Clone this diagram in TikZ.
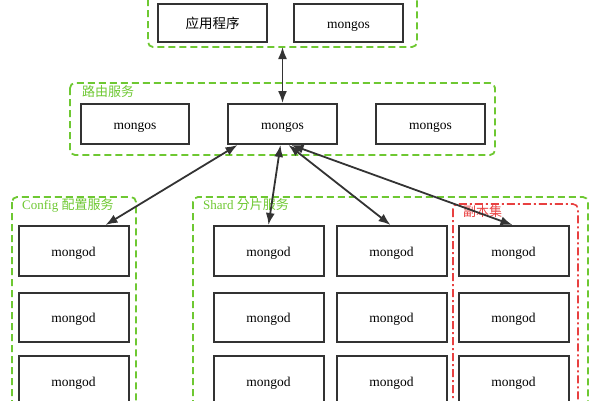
\documentclass[tikz,border=0pt]{standalone}
\usepackage{fontspec}
\setmainfont{Liberation Serif}
\newfontfamily\cjk{Noto Sans CJK SC}
\usetikzlibrary{arrows.meta}
\definecolor{grp}{RGB}{110,200,50}
\definecolor{rep}{RGB}{232,64,64}
\definecolor{ink}{RGB}{51,51,51}
\tikzset{
  box/.style={draw=ink, line width=2pt, minimum width=110pt, fill=white, inner sep=0pt, text height=12pt, text depth=2pt, font=\fontsize{13.5}{15}\selectfont},
  grpbox/.style={draw=grp, line width=1.8pt, dash pattern=on 7pt off 4pt, rounded corners=5pt},
  repbox/.style={draw=rep, line width=1.6pt, dash pattern=on 8pt off 3pt on 2pt off 3pt, rounded corners=5pt},
  grplabel/.style={text=grp, anchor=west, inner sep=0pt, font=\fontsize{13}{15}\selectfont},
  conn/.style={draw=ink, line width=1.8pt, {Latex[length=12pt,width=9pt]}-{Latex[length=12pt,width=9pt]}}
}
\begin{document}
\begin{tikzpicture}[x=1pt,y=-1pt]
\useasboundingbox (0,0) rectangle (600,400);
% groups
\draw[grpbox] (148,-6) rectangle (417,47);
\coordinate (topb) at (282,47);
\draw[grpbox] (70,83) rectangle (495,155);
\node[grplabel] (lroute) at (82,92) {\cjk 路由服务};
\draw[grpbox] (12,197) rectangle (136,412);
\node[grplabel] (lconf) at (22,205) {Config {\cjk 配置服务}};
\draw[grpbox] (193,197) rectangle (588,412);
\node[grplabel] (lshard) at (203,205) {Shard {\cjk 分片服务}};
\draw[repbox] (453,204) rectangle (578,412);
\node[grplabel, text=rep] (lrep) at (463,212) {\cjk 副本集};
% top nodes
\node[box, minimum width=109pt, minimum height=38pt] (app) at (212.5,23) {\cjk 应用程序};
\node[box, minimum width=109pt, minimum height=38pt] (mtop) at (348.5,23) {mongos};
% routing
\node[box, minimum width=108pt, minimum height=40pt] (m1) at (135,124) {mongos};
\node[box, minimum width=109pt, minimum height=40pt] (m2) at (282.5,124) {mongos};
\node[box, minimum width=109pt, minimum height=40pt] (m3) at (430.5,124) {mongos};
% config
\node[box, minimum height=50pt] (c1) at (73.5,251) {mongod};
\node[box, minimum height=49pt] (c2) at (73.5,317.5) {mongod};
\node[box, minimum height=50pt] (c3) at (73.5,381) {mongod};
% shards
\foreach \n/\x in {a/268.5,b/391.5,c/513.5}{
  \node[box, minimum height=50pt] (s\n1) at (\x,251) {mongod};
  \node[box, minimum height=49pt] (s\n2) at (\x,317.5) {mongod};
  \node[box, minimum height=50pt] (s\n3) at (\x,381) {mongod};
}
% connectors
\draw[conn] (m2.north |- topb) -- (m2.north);
\draw[conn] ([xshift=-45pt]m2.south) -- ([xshift=-24pt]c1.north east);
\draw[conn] ([xshift=-2pt]m2.south) -- (sa1.north);
\draw[conn] ([xshift=6pt]m2.south) -- ([xshift=-1pt]sb1.north);
\draw[conn] ([xshift=9pt]m2.south) -- ([xshift=-1pt]sc1.north);
\end{tikzpicture}
\end{document}
